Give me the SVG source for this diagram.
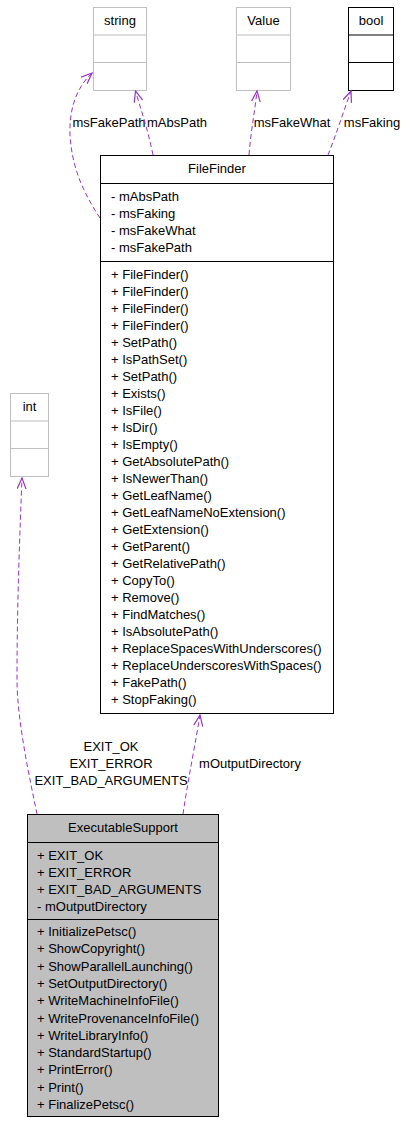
<svg xmlns="http://www.w3.org/2000/svg" width="405" height="1123" viewBox="0 0 405 1123">
<defs>
<style>
text{font-family:"Liberation Sans",Arial,sans-serif;font-size:13px;fill:#000}
.c{text-anchor:middle}
.gray{fill:#fff;stroke:#bfbfbf;stroke-width:1}
.blk{fill:#fff;stroke:#000;stroke-width:1}
.sel{fill:#bfbfbf;stroke:#000;stroke-width:1}
.e{fill:none;stroke:#9a32cd;stroke-width:1;stroke-dasharray:5,3;marker-end:url(#arr)}
</style>
<marker id="arr" viewBox="0 0 12 10" refX="11" refY="5" markerWidth="12" markerHeight="10" markerUnits="userSpaceOnUse" orient="auto">
<path d="M0,0.5 L11,5 L0,9.5" fill="none" stroke="#9a32cd" stroke-width="1.2"/>
</marker>
</defs>
<rect width="405" height="1123" fill="#fff"/>
<g id="string">
<rect class="gray" x="93.5" y="7.5" width="53" height="83"/>
<line class="gray" x1="93.5" y1="35" x2="146.5" y2="35"/>
<line class="gray" x1="93.5" y1="62.5" x2="146.5" y2="62.5"/>
<text class="c" x="120" y="25">string</text>
</g>
<g id="Value">
<rect class="gray" x="236.5" y="7.5" width="54" height="83"/>
<line class="gray" x1="236.5" y1="35" x2="290.5" y2="35"/>
<line class="gray" x1="236.5" y1="62.5" x2="290.5" y2="62.5"/>
<text class="c" x="263.5" y="25">Value</text>
</g>
<g id="bool">
<rect class="blk" x="348.5" y="7.5" width="45" height="83"/>
<line class="blk" x1="348.5" y1="35" x2="393.5" y2="35"/>
<line class="blk" x1="348.5" y1="62.5" x2="393.5" y2="62.5"/>
<text class="c" x="371" y="25">bool</text>
</g>
<g id="int">
<rect class="gray" x="10.5" y="393.5" width="38" height="83"/>
<line class="gray" x1="10.5" y1="421" x2="48.5" y2="421"/>
<line class="gray" x1="10.5" y1="448.5" x2="48.5" y2="448.5"/>
<text class="c" x="29.5" y="411">int</text>
</g>
<g id="FileFinder">
<rect class="blk" x="100.5" y="155.5" width="233" height="558"/>
<line class="blk" x1="100.5" y1="183.5" x2="333.5" y2="183.5"/>
<line class="blk" x1="100.5" y1="261.5" x2="333.5" y2="261.5"/>
<text class="c" x="217" y="173">FileFinder</text>
<text x="111" y="201">- mAbsPath</text>
<text x="111" y="218">- msFaking</text>
<text x="111" y="235">- msFakeWhat</text>
<text x="111" y="252">- msFakePath</text>
<text x="111" y="279">+ FileFinder()</text>
<text x="111" y="296">+ FileFinder()</text>
<text x="111" y="313">+ FileFinder()</text>
<text x="111" y="330">+ FileFinder()</text>
<text x="111" y="347">+ SetPath()</text>
<text x="111" y="364">+ IsPathSet()</text>
<text x="111" y="381">+ SetPath()</text>
<text x="111" y="398">+ Exists()</text>
<text x="111" y="415">+ IsFile()</text>
<text x="111" y="432">+ IsDir()</text>
<text x="111" y="449">+ IsEmpty()</text>
<text x="111" y="466">+ GetAbsolutePath()</text>
<text x="111" y="483">+ IsNewerThan()</text>
<text x="111" y="500">+ GetLeafName()</text>
<text x="111" y="517">+ GetLeafNameNoExtension()</text>
<text x="111" y="534">+ GetExtension()</text>
<text x="111" y="551">+ GetParent()</text>
<text x="111" y="568">+ GetRelativePath()</text>
<text x="111" y="585">+ CopyTo()</text>
<text x="111" y="602">+ Remove()</text>
<text x="111" y="619">+ FindMatches()</text>
<text x="111" y="636">+ IsAbsolutePath()</text>
<text x="111" y="653">+ ReplaceSpacesWithUnderscores()</text>
<text x="111" y="670">+ ReplaceUnderscoresWithSpaces()</text>
<text x="111" y="687">+ FakePath()</text>
<text x="111" y="704">+ StopFaking()</text>
</g>
<g id="ExecutableSupport">
<rect class="sel" x="27.5" y="814.5" width="191" height="302"/>
<line class="sel" x1="27.5" y1="842.5" x2="218.5" y2="842.5"/>
<line class="sel" x1="27.5" y1="919.5" x2="218.5" y2="919.5"/>
<text class="c" x="123" y="832">ExecutableSupport</text>
<text x="37" y="860">+ EXIT_OK</text>
<text x="37" y="877">+ EXIT_ERROR</text>
<text x="37" y="894">+ EXIT_BAD_ARGUMENTS</text>
<text x="37" y="911">- mOutputDirectory</text>
<text x="37" y="936">+ InitializePetsc()</text>
<text x="37" y="953.3">+ ShowCopyright()</text>
<text x="37" y="970.6">+ ShowParallelLaunching()</text>
<text x="37" y="987.9">+ SetOutputDirectory()</text>
<text x="37" y="1005.2">+ WriteMachineInfoFile()</text>
<text x="37" y="1022.5">+ WriteProvenanceInfoFile()</text>
<text x="37" y="1039.8">+ WriteLibraryInfo()</text>
<text x="37" y="1057.1">+ StandardStartup()</text>
<text x="37" y="1074.4">+ PrintError()</text>
<text x="37" y="1091.7">+ Print()</text>
<text x="37" y="1109">+ FinalizePetsc()</text>
</g>
<g id="connectors">
<path class="e" d="M100,218 C85,195 72,170 70,135 C69,110 76,88 92,73"/>
<text class="c" x="109" y="127">msFakePath</text>
<path class="e" d="M153,155 C148,130 141,110 135.5,91"/>
<text class="c" x="177" y="127">mAbsPath</text>
<path class="e" d="M249,155 C251,130 255,110 257,91"/>
<text class="c" x="292" y="127">msFakeWhat</text>
<path class="e" d="M328,155 C336,135 344,110 351,91"/>
<text class="c" x="372" y="127">msFaking</text>
<path class="e" d="M37,814 C30,780 17,720 17,680 C17,600 20,530 22,478"/>
<text class="c" x="111" y="751">EXIT_OK</text>
<text class="c" x="111" y="768">EXIT_ERROR</text>
<text class="c" x="111" y="785">EXIT_BAD_ARGUMENTS</text>
<path class="e" d="M183,814 C188,780 196,740 200,715"/>
<text class="c" x="250" y="768">mOutputDirectory</text>
</g>
</svg>
